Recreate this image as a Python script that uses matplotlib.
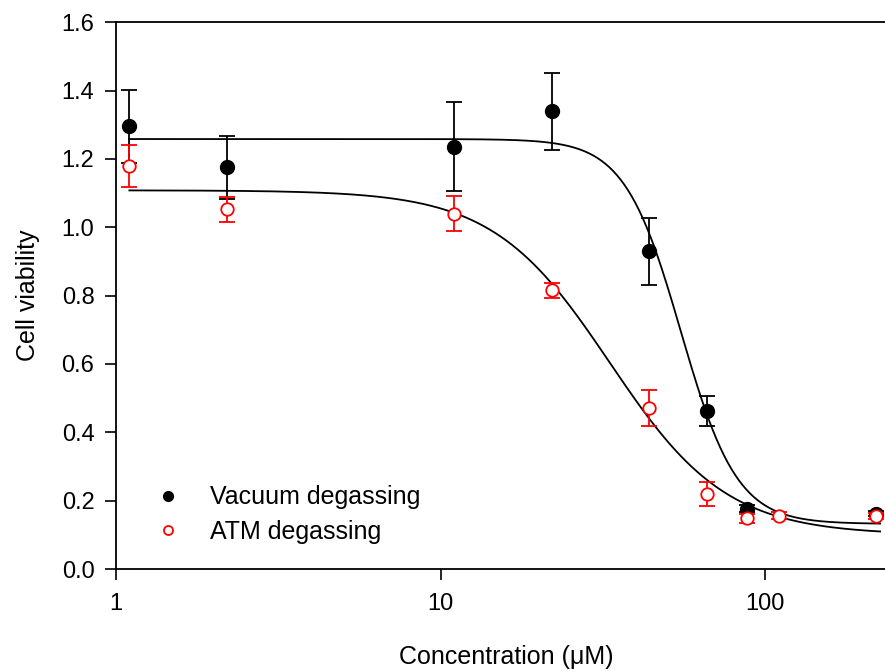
import numpy as np
import matplotlib
matplotlib.use("Agg")
import matplotlib.pyplot as plt
from matplotlib.lines import Line2D

plt.rcParams['font.family'] = ['Liberation Sans', 'DejaVu Sans']

# data
conc_vac = [1.1, 2.2, 11, 22, 44, 66, 88, 220]
via_vac = [1.295, 1.175, 1.236, 1.339, 0.930, 0.463, 0.177, 0.162]
err_vac = [0.107, 0.092, 0.130, 0.113, 0.098, 0.044, 0.010, 0.008]

conc_atm = [1.1, 2.2, 11, 22, 44, 66, 88, 110, 220]
via_atm = [1.180, 1.052, 1.040, 0.815, 0.472, 0.220, 0.148, 0.156, 0.155]
err_atm = [0.062, 0.036, 0.050, 0.022, 0.053, 0.036, 0.012, 0.010, 0.010]

# 4-parameter logistic fit parameters (bottom, top, ic50, hill)
fit_vac = (0.132, 1.258, 55.0, 5.0)
fit_atm = (0.100, 1.108, 33.2, 2.41)

series_names = ['Vacuum degassing', 'ATM degassing']


def logistic(x, p):
    b, t, c, h = p
    return b + (t - b) / (1 + (x / c) ** h)


fig = plt.figure(figsize=(8.85, 6.71), dpi=100)
ax = fig.add_axes([0.131, 0.152, 0.869, 0.815])

xx = np.logspace(np.log10(1.1), np.log10(226), 400)
ax.plot(xx, logistic(xx, fit_vac), color='black', lw=1.3, zorder=2)
ax.plot(xx, logistic(xx, fit_atm), color='black', lw=1.3, zorder=2)

ax.errorbar(conc_vac, via_vac, yerr=err_vac, fmt='o', color='black', ms=10,
            ecolor='black', elinewidth=1.3, capsize=6, capthick=1.3, zorder=3)
ax.errorbar(conc_atm, via_atm, yerr=err_atm, fmt='o', color='red', ms=9,
            mfc='white', mec='red', mew=1.3, ecolor='red', elinewidth=1.3,
            capsize=6, capthick=1.3, zorder=4)

ax.set_xscale('log')
ax.set_xlim(1, 234)
ax.set_ylim(0, 1.6)
ax.set_xticks([1, 10, 100])
ax.set_xticklabels(['1', '10', '100'])
ax.xaxis.set_minor_locator(matplotlib.ticker.NullLocator())
yt = np.arange(0, 1.61, 0.2)
ax.set_yticks(yt)
ax.set_yticklabels(['%.1f' % v for v in yt])
ax.tick_params(axis='both', direction='out', length=8, width=1.2, labelsize=17)
ax.tick_params(axis='x', pad=9)
ax.tick_params(axis='y', pad=7.5)
for s in ax.spines.values():
    s.set_linewidth(1.3)
ax.spines['right'].set_visible(False)

ax.set_xlabel('Concentration (μM)', fontsize=18, va='center')
ax.xaxis.set_label_coords(0.507, -0.161)
ax.set_ylabel('Cell viability', fontsize=18, va='center')
ax.yaxis.set_label_coords(-0.114, 0.5)

handles = [
    Line2D([], [], ls='none', marker='o', ms=7, color='black'),
    Line2D([], [], ls='none', marker='o', ms=6.5, mfc='white', mec='red', mew=1.3),
]
ax.legend(handles, series_names, loc='center left', bbox_to_anchor=(0.0358, 0.0996),
          frameon=False, fontsize=18, borderpad=0, handlelength=1.0,
          handletextpad=1.18, labelspacing=0.41)

fig.savefig('out.png', dpi=100)
